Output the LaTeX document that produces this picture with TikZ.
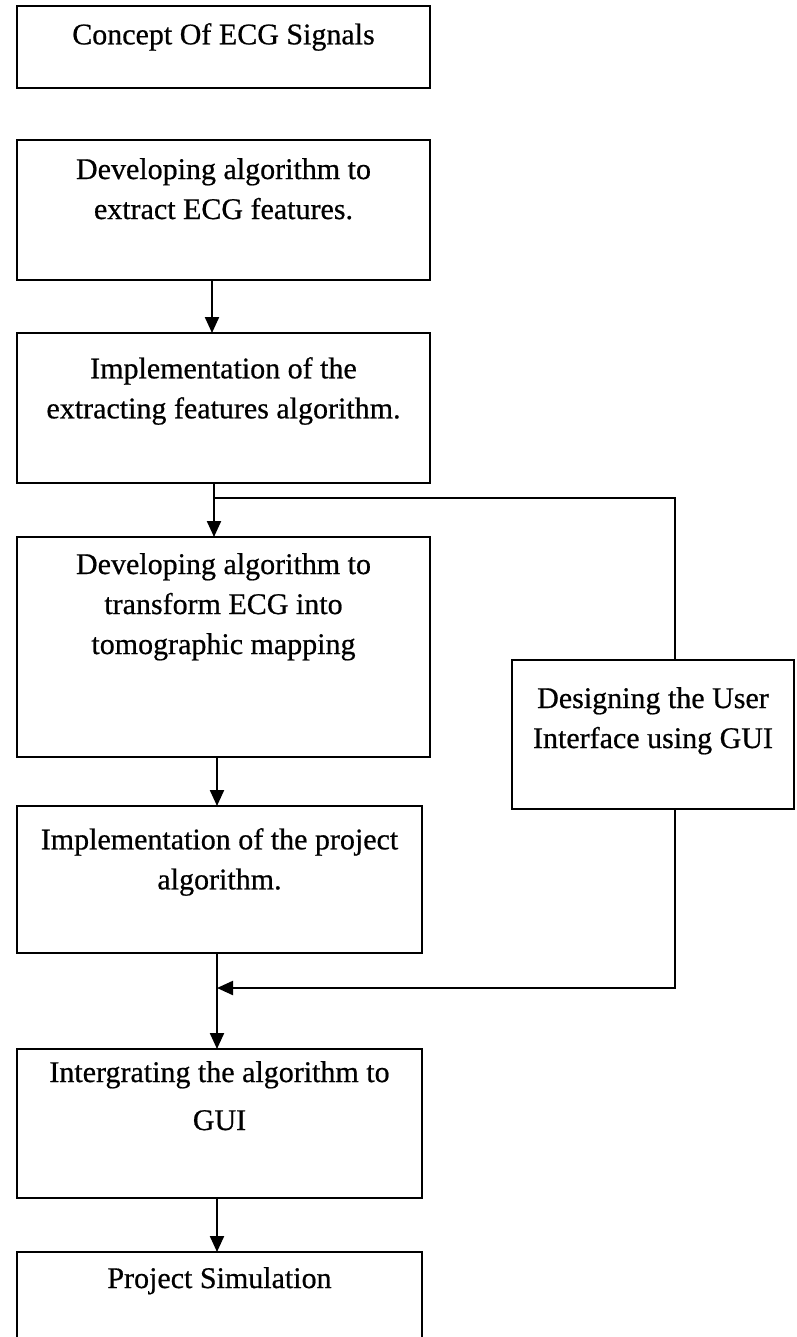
\documentclass[tikz,border=0pt]{standalone}
\usepackage{fontspec}
\setmainfont{Liberation Serif}[FakeBold=0.6]
\usetikzlibrary{arrows.meta}
\tikzset{
  stage/.style={draw, rectangle, line width=2.4pt, inner sep=0pt, outer sep=0pt},
  caption/.style={align=center, anchor=north, inner sep=0pt,
    font=\fontsize{30}{40}\selectfont},
  link/.style={line width=2.2pt},
  flow/.style={link, -{Triangle[width=14pt,length=16pt]}},
}
\begin{document}
\begin{tikzpicture}[x=1pt, y=-1pt]
  \clip (0,0) rectangle (796,1337);

  % process boxes (left column)
  \node[stage, minimum width=413pt, minimum height=82pt]  (b1) at (223.5,47)   {};
  \node[stage, minimum width=413pt, minimum height=140pt] (b2) at (223.5,210)  {};
  \node[stage, minimum width=413pt, minimum height=150pt] (b3) at (223.5,408)  {};
  \node[stage, minimum width=413pt, minimum height=220pt] (b4) at (223.5,647)  {};
  \node[stage, minimum width=405pt, minimum height=147pt] (b5) at (219.5,879.5) {};
  \node[stage, minimum width=405pt, minimum height=149pt] (b6) at (219.5,1123.5) {};
  \node[stage, minimum width=405pt, minimum height=100pt] (b7) at (219.5,1302) {};
  % side box
  \node[stage, minimum width=282pt, minimum height=149pt] (g)  at (653,734.5)  {};

  % box texts
  \node[caption] (t1) at ([yshift=-17pt]b1.north) {Concept Of ECG Signals};
  \node[caption] (t2) at ([yshift=-18pt]b2.north) {Developing algorithm to\\extract ECG features.};
  \node[caption] (t3) at ([yshift=-24pt]b3.north) {Implementation of the\\extracting features algorithm.};
  \node[caption] (t4) at ([yshift=-16pt]b4.north) {Developing algorithm to\\transform ECG into\\tomographic mapping};
  \node[caption] (t5) at ([yshift=-22pt]b5.north) {Implementation of the project\\algorithm.};
  \node[caption, font=\fontsize{30}{48}\selectfont] (t6) at ([yshift=-12pt]b6.north) {Intergrating the algorithm to\\GUI};
  \node[caption] (t7) at ([yshift=-15pt]b7.north) {Project Simulation};
  \node[caption] (tg) at ([yshift=-27pt]g.north)  {Designing the User\\Interface using GUI};

  % connector positions
  \coordinate (cu) at (212,0);
  \coordinate (j1) at (214,498);
  \coordinate (gx) at (675,0);
  \coordinate (j2) at (217,988);

  % connectors
  \draw[flow] (b2.south -| cu) -- (b3.north -| cu);
  \draw[flow] (b3.south -| j1) -- (b4.north -| j1);
  \draw[link] (j1) -| (g.north -| gx);
  \draw[flow] (b4.south -| j2) -- (b5.north -| j2);
  \draw[flow] (g.south -| gx) |- (j2);
  \draw[flow] (b5.south -| j2) -- (b6.north -| j2);
  \draw[flow] (b6.south -| j2) -- (b7.north -| j2);
\end{tikzpicture}
\end{document}
